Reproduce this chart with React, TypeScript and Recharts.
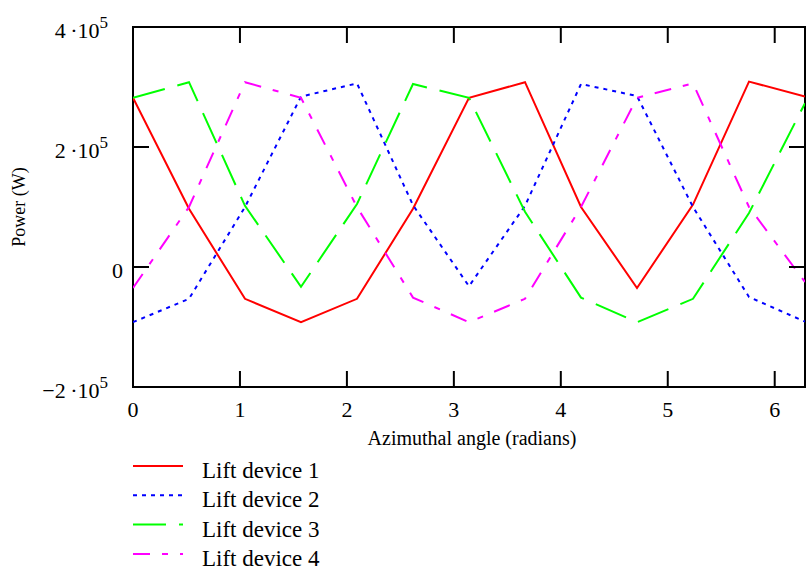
import React from 'react';
import { LineChart, Line, XAxis, YAxis, ReferenceArea, Legend } from 'recharts';

// Azimuthal angles (radians) the devices were sampled at
const angles = [0, 0.5236, 1.0472, 1.5708, 2.0944, 2.618, 3.1416, 3.6652, 4.1888, 4.7124, 5.236, 5.7596, 6.2832];

// Power in W
const liftDevice1 = [282000, 97000, -53000, -92000, -53000, 97000, 282000, 308000, 100000, -35000, 104000, 309000, 284000];
const liftDevice2 = [-92000, -53000, 100000, 284000, 306000, 103000, -32000, 102000, 305000, 285000, 100000, -50000, -91000];
const liftDevice3 = [282000, 308000, 102000, -33000, 105000, 305000, 282000, 92000, -51000, -92000, -53000, 90000, 273000];
const liftDevice4 = [-35000, 100000, 308000, 282000, 100000, -51000, -92000, -53000, 100000, 282000, 306000, 100000, -25000];

const xTicks = [0, 1, 2, 3, 4, 5, 6];
const yTicks = [-200000, 0, 200000, 400000];
const yTickMantissa: Record<number, string> = {
  [-200000]: '\u22122\u2009\u00b710',
  0: '0',
  200000: '2\u2009\u00b710',
  400000: '4\u2009\u00b710',
};
const yTickExponent = '5';

const xDomain = [0, 6.2832];
const yDomain = [-200000, 400000];

const series = [
  { key: 'd1', name: 'Lift device 1', color: '#ff0000', dash: undefined },
  { key: 'd2', name: 'Lift device 2', color: '#0000ff', dash: '4 5' },
  { key: 'd3', name: 'Lift device 3', color: '#00ff00', dash: '33 13' },
  { key: 'd4', name: 'Lift device 4', color: '#ff00ff', dash: '17 12 6 12' },
];

const data = angles.map((x, i) => ({
  x,
  d1: liftDevice1[i],
  d2: liftDevice2[i],
  d3: liftDevice3[i],
  d4: liftDevice4[i],
}));

const FONT = '"Liberation Serif", "Times New Roman", serif';
const CHART_W = 808;
const CHART_H = 577;
const MARGIN = { top: 27, right: 3, bottom: 150, left: 0 };
const Y_AXIS_W = 133;
const X_AXIS_H = 40;
const PLOT_W = CHART_W - MARGIN.left - MARGIN.right - Y_AXIS_W;
const PLOT_H = CHART_H - MARGIN.top - MARGIN.bottom - X_AXIS_H;
const TICK_LEN = 16;

const XTick = ({ x, y, payload }: any) => (
  <g>
    <line x1={x} y1={y} x2={x} y2={y - TICK_LEN} stroke="#000" strokeWidth={2} />
    <line x1={x} y1={y - PLOT_H} x2={x} y2={y - PLOT_H + TICK_LEN} stroke="#000" strokeWidth={2} />
    <text x={x} y={y + 30} textAnchor="middle" fontFamily={FONT} fontSize={22} fill="#000">
      {payload.value}
    </text>
  </g>
);

const YTick = ({ x, y, payload }: any) => {
  const isZero = payload.value === 0;
  return (
    <g>
      <line x1={x} y1={y} x2={x + TICK_LEN} y2={y} stroke="#000" strokeWidth={2} />
      <line x1={x + PLOT_W} y1={y} x2={x + PLOT_W - TICK_LEN} y2={y} stroke="#000" strokeWidth={2} />
      <text x={isZero ? x - 10 : x - 25} y={y + 11} textAnchor="end" fontFamily={FONT} fontSize={22} fill="#000">
        {yTickMantissa[payload.value]}
        {!isZero && (
          <tspan dy={-10} fontSize={17}>
            {yTickExponent}
          </tspan>
        )}
      </text>
    </g>
  );
};

const XLabel = ({ viewBox }: any) => (
  <text x={viewBox.x + viewBox.width / 2 + 3} y={viewBox.y + 58} textAnchor="middle" fontFamily={FONT} fontSize={20} fill="#000">
    Azimuthal angle (radians)
  </text>
);

const YLabel = ({ viewBox }: any) => {
  const cx = viewBox.x + 25;
  const cy = viewBox.y + viewBox.height / 2;
  return (
    <text x={cx} y={cy} transform={`rotate(-90 ${cx} ${cy})`} textAnchor="middle" fontFamily={FONT} fontSize={18} fill="#000">
      Power (W)
    </text>
  );
};

const LegendBox = () => (
  <svg width={320} height={125}>
    {series.map((s, i) => {
      const ly = 14 + i * 29.3;
      return (
        <g key={s.key}>
          <line x1={0} y1={ly} x2={50} y2={ly} stroke={s.color} strokeWidth={2} strokeDasharray={s.dash} />
          <text x={69} y={ly + 12} fontFamily={FONT} fontSize={23} fill="#000">
            {s.name}
          </text>
        </g>
      );
    })}
  </svg>
);

export default function App() {
  return (
    <div style={{ position: 'absolute', left: 0, top: 0, background: '#fff' }}>
      <LineChart width={CHART_W} height={CHART_H} data={data} margin={MARGIN}>
        <XAxis
          dataKey="x"
          type="number"
          domain={xDomain}
          ticks={xTicks}
          allowDataOverflow
          height={X_AXIS_H}
          axisLine={false}
          tickLine={false}
          tickSize={0}
          tickMargin={0}
          tick={<XTick />}
          interval={0}
          label={{ content: <XLabel /> }}
        />
        <YAxis
          type="number"
          domain={yDomain}
          ticks={yTicks}
          allowDataOverflow
          width={Y_AXIS_W}
          axisLine={false}
          tickLine={false}
          tickSize={0}
          tickMargin={0}
          tick={<YTick />}
          interval={0}
          label={{ content: <YLabel /> }}
        />
        <ReferenceArea
          x1={xDomain[0]}
          x2={xDomain[1]}
          y1={yDomain[0]}
          y2={yDomain[1]}
          fill="none"
          stroke="#000"
          strokeWidth={2}
        />
        {series.map((s) => (
          <Line
            key={s.key}
            type="linear"
            dataKey={s.key}
            name={s.name}
            stroke={s.color}
            strokeWidth={2}
            strokeDasharray={s.dash}
            dot={false}
            activeDot={false}
            isAnimationActive={false}
          />
        ))}
        <Legend
          layout="vertical"
          align="center"
          verticalAlign="middle"
          content={<LegendBox />}
          wrapperStyle={{ left: 133, top: 452, width: 320, height: 125 }}
        />
      </LineChart>
    </div>
  );
}
